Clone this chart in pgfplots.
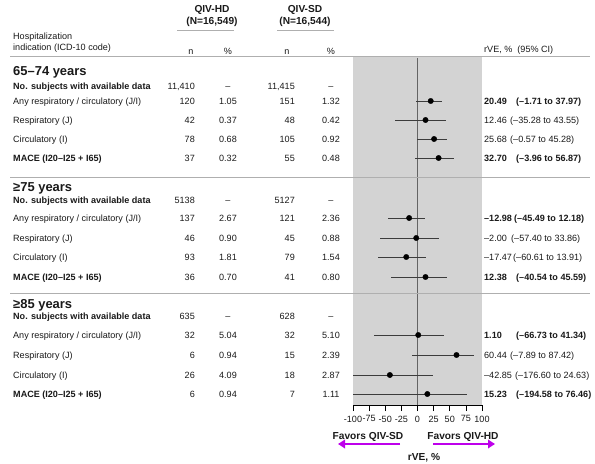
\documentclass[border=0pt]{standalone}
\usepackage{fontspec}
\setmainfont{Liberation Sans}
\usepackage{pgfplots}
\pgfplotsset{compat=1.18}
\usetikzlibrary{arrows.meta}
\definecolor{shade}{RGB}{211,211,211}
\definecolor{txt}{RGB}{25,25,25}
\definecolor{rulec}{RGB}{175,175,175}
\definecolor{zeroc}{RGB}{100,100,100}
\definecolor{barc}{RGB}{60,60,60}
\definecolor{arrowc}{RGB}{190,0,235}
\newcommand{\fs}{\fontsize{9.1}{11}\selectfont}
\newcommand{\R}[6]{%
  \node[t,anchor=base west] at (13,-#1) {#2};
  \node[t,anchor=base east] at (195,-#1) {#3};
  \node[t,anchor=base] at (228,-#1) {#4};
  \node[t,anchor=base east] at (295,-#1) {#5};
  \node[t,anchor=base] at (331,-#1) {#6};}
\newcommand{\V}[4]{% y, value, ci, x of ci
  \node[t,anchor=base west] at (484,-#1) {#2};
  \node[t,anchor=base west] at (#4,-#1) {#3};}
\begin{document}
\begin{tikzpicture}[x=1bp,y=1bp,
  t/.style={font=\fs, text=txt, inner sep=0pt, yshift=-3.3bp},
  h/.style={font=\fontsize{10.2}{12}\selectfont\bfseries, text=txt, inner sep=0pt, yshift=-3.7bp, anchor=base},
  g/.style={font=\fontsize{13}{15}\selectfont\bfseries, text=txt, inner sep=0pt, yshift=-4.7bp, anchor=base west}]
\useasboundingbox (0,0) rectangle (595,-464);
\begin{axis}[at={(353bp,-405bp)}, anchor=south west, scale only axis,
  width=129bp, height=348bp,
  xmin=-100, xmax=100, ymin=-405, ymax=-57,
  axis x line*=bottom, axis y line=none,
  axis line style={black, line width=0.6pt},
  axis background/.style={fill=shade},
  xtick={-100,-75,-50,-25,0,25,50,75,100},
  xticklabels={-100,-75,-50,-25,0,25,50,75,100},
  tick align=outside, major tick length=6bp,
  tick style={black, line width=0.6pt},
  xticklabel style={font=\fs, text=txt, inner sep=1.5bp, yshift=-3bp},
  ]
\addplot[zeroc, line width=0.8pt] coordinates {(0,-58) (0,-405)};
\addplot[only marks, mark=*, mark size=2.7pt, black,
  error bars/.cd, x dir=both, x explicit,
  error bar style={barc, line width=0.7pt}, error mark=none]
coordinates {
(20.49,-101) += (17.48,0) -= (22.20,0)
(12.46,-120) += (31.09,0) -= (47.74,0)
(25.68,-139) += (19.60,0) -= (26.25,0)
(32.70,-158) += (24.17,0) -= (36.66,0)
(-12.98,-218) += (25.16,0) -= (32.51,0)
(-2.00,-238) += (35.86,0) -= (55.40,0)
(-17.47,-257) += (31.38,0) -= (43.14,0)
(12.38,-277) += (33.21,0) -= (52.92,0)
(1.10,-335) += (40.24,0) -= (67.83,0)
(60.44,-355) += (26.98,0) -= (68.33,0)
(-42.85,-375) += (67.48,0) -= (133.75,0)
(15.23,-394) += (61.23,0) -= (209.81,0)
};
\end{axis}
% rules
\draw[rulec, line width=0.7pt] (10,-56) -- (590,-56);
\draw[rulec, line width=0.7pt] (10,-177) -- (590,-177);
\draw[rulec, line width=0.7pt] (10,-293) -- (590,-293);
\draw[rulec, line width=0.7pt] (177,-30) -- (234,-30);
\draw[rulec, line width=0.7pt] (277,-30) -- (334,-30);
% header
\node[h] at (212,-9) {QIV-HD};
\node[h] at (212,-21) {(N=16,549)};
\node[h] at (305,-9) {QIV-SD};
\node[h] at (305,-21) {(N=16,544)};
\node[t,anchor=base west] at (13,-36) {Hospitalization};
\node[t,anchor=base west] at (13,-47) {indication (ICD-10 code)};
\node[t,anchor=base] at (191,-51) {n};
\node[t,anchor=base] at (228,-51) {\%};
\node[t,anchor=base] at (287,-51) {n};
\node[t,anchor=base] at (331,-51) {\%};
\node[t,anchor=base west] at (484,-49) {rVE, \%\ \ (95\% CI)};
% group 65-74
\node[g] at (13,-71) {65–74 years};
\R{86}{\bfseries No. subjects with available data}{11,410}{–}{11,415}{–}
\R{101}{Any respiratory / circulatory (J/I)}{120}{1.05}{151}{1.32}
\R{120}{Respiratory (J)}{42}{0.37}{48}{0.42}
\R{139}{Circulatory (I)}{78}{0.68}{105}{0.92}
\R{158}{\bfseries MACE (I20–I25 + I65)}{37}{0.32}{55}{0.48}
\V{101}{\bfseries 20.49}{\bfseries (–1.71 to 37.97)}{516}
\V{120}{12.46}{(–35.28 to 43.55)}{510}
\V{139}{25.68}{(–0.57 to 45.28)}{510}
\V{158}{\bfseries 32.70}{\bfseries (–3.96 to 56.87)}{516}
% group >=75
\node[g] at (13,-187) {≥75 years};
\R{200}{\bfseries No. subjects with available data}{5138}{–}{5127}{–}
\R{218}{Any respiratory / circulatory (J/I)}{137}{2.67}{121}{2.36}
\R{238}{Respiratory (J)}{46}{0.90}{45}{0.88}
\R{257}{Circulatory (I)}{93}{1.81}{79}{1.54}
\R{277}{\bfseries MACE (I20–I25 + I65)}{36}{0.70}{41}{0.80}
\V{218}{\bfseries –12.98}{\bfseries (–45.49 to 12.18)}{514}
\V{238}{–2.00}{(–57.40 to 33.86)}{511}
\V{257}{–17.47}{(–60.61 to 13.91)}{513}
\V{277}{\bfseries 12.38}{\bfseries (–40.54 to 45.59)}{516}
% group >=85
\node[g] at (13,-304) {≥85 years};
\R{316}{\bfseries No. subjects with available data}{635}{–}{628}{–}
\R{335}{Any respiratory / circulatory (J/I)}{32}{5.04}{32}{5.10}
\R{355}{Respiratory (J)}{6}{0.94}{15}{2.39}
\R{375}{Circulatory (I)}{26}{4.09}{18}{2.87}
\R{394}{\bfseries MACE (I20–I25 + I65)}{6}{0.94}{7}{1.11}
\V{335}{\bfseries 1.10}{\bfseries (–66.73 to 41.34)}{516}
\V{355}{60.44}{(–7.89 to 87.42)}{510}
\V{375}{–42.85}{(–176.60 to 24.63)}{515}
\V{394}{\bfseries 15.23}{\bfseries (–194.58 to 76.46)}{516}
% bottom
\node[h] at (368,-436) {Favors QIV-SD};
\node[h] at (463,-436) {Favors QIV-HD};
\draw[arrowc, line width=2.6bp, -{Triangle[length=7bp,width=8.5bp]}] (400,-444) -- (338,-444);
\draw[arrowc, line width=2.6bp, -{Triangle[length=7bp,width=8.5bp]}] (433,-444) -- (495,-444);
\node[h] at (424,-457) {rVE, \%};
\end{tikzpicture}
\end{document}
